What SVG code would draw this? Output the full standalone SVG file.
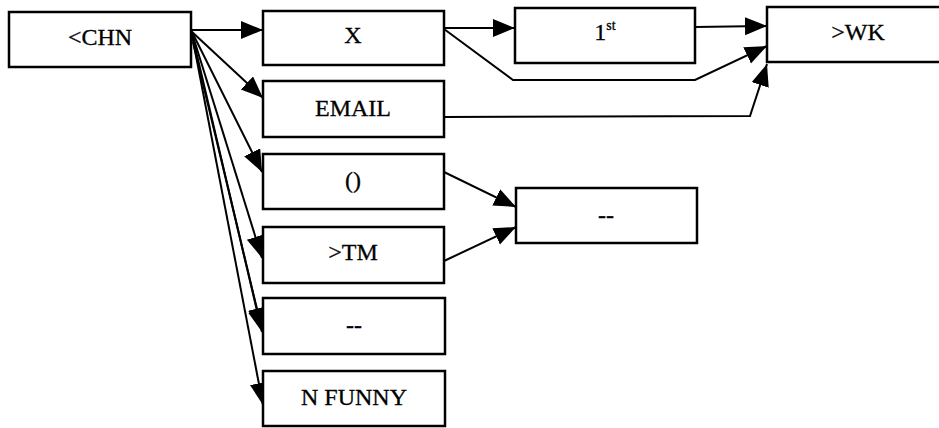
<svg xmlns="http://www.w3.org/2000/svg" width="939" height="428" viewBox="0 0 939 428">
  <style>
    .box rect { fill: #fff; stroke: #000; stroke-width: 2.5; }
    .box text { font-family: "Liberation Serif", "Times New Roman", serif; font-size: 24px; text-anchor: middle; fill: #000; stroke: #000; stroke-width: 0.3; }
    .edge { fill: none; stroke: #000; stroke-width: 2; marker-end: url(#arrow); }
  </style>
  <defs>
    <marker id="arrow" markerUnits="userSpaceOnUse" markerWidth="24" markerHeight="20" refX="22" refY="9" orient="auto">
      <path d="M0,0 L22,9 L0,18 Z" fill="#000"/>
    </marker>
  </defs>
  <rect width="939" height="428" fill="#fff"/>

  <!-- connectors -->
  <g id="connectors">
    <path class="edge" d="M191,30 L263,30"/>
    <path class="edge" d="M191,31 L263,98"/>
    <path class="edge" d="M192,32 L262,172"/>
    <path class="edge" d="M192,33 L262,258"/>
    <path class="edge" d="M192,34 L262,332"/>
    <path class="edge" d="M193,42 L262,330"/>
    <path class="edge" d="M192,35 L263,405"/>
    <path class="edge" d="M444,28 L515,28"/>
    <path class="edge" d="M695,27 L767,26"/>
    <path class="edge" d="M444,29 L513,80 L695,80 L767,46"/>
    <path class="edge" d="M444,117 L750,116 L767,64"/>
    <path class="edge" d="M444,172 L516,207"/>
    <path class="edge" d="M444,261 L516,227"/>
  </g>

  <g id="n-chn" class="box"><rect x="9" y="12" width="182" height="55"/><text x="100" y="45">&lt;CHN</text></g>
  <g id="n-x" class="box"><rect x="263" y="11" width="181" height="54"/><text x="353" y="43">X</text></g>
  <g id="n-first" class="box"><rect x="515" y="8" width="180" height="55"/><text x="605" y="40">1<tspan font-size="14" dy="-10">st</tspan></text></g>
  <g id="n-wk" class="box"><rect x="767" y="7" width="182" height="55"/><text x="858" y="40">&gt;WK</text></g>
  <g id="n-email" class="box"><rect x="263" y="81" width="181" height="56"/><text x="353" y="116">EMAIL</text></g>
  <g id="n-paren" class="box"><rect x="263" y="154" width="181" height="55"/><text x="353" y="188">()</text></g>
  <g id="n-tm" class="box"><rect x="263" y="227" width="181" height="56"/><text x="353" y="260">&gt;TM</text></g>
  <g id="n-dash1" class="box"><rect x="263" y="298" width="182" height="56"/><text x="354" y="333">--</text></g>
  <g id="n-funny" class="box"><rect x="263" y="371" width="182" height="55"/><text x="354" y="405">N FUNNY</text></g>
  <g id="n-dash2" class="box"><rect x="516" y="188" width="181" height="55"/><text x="606" y="223">--</text></g>
</svg>
